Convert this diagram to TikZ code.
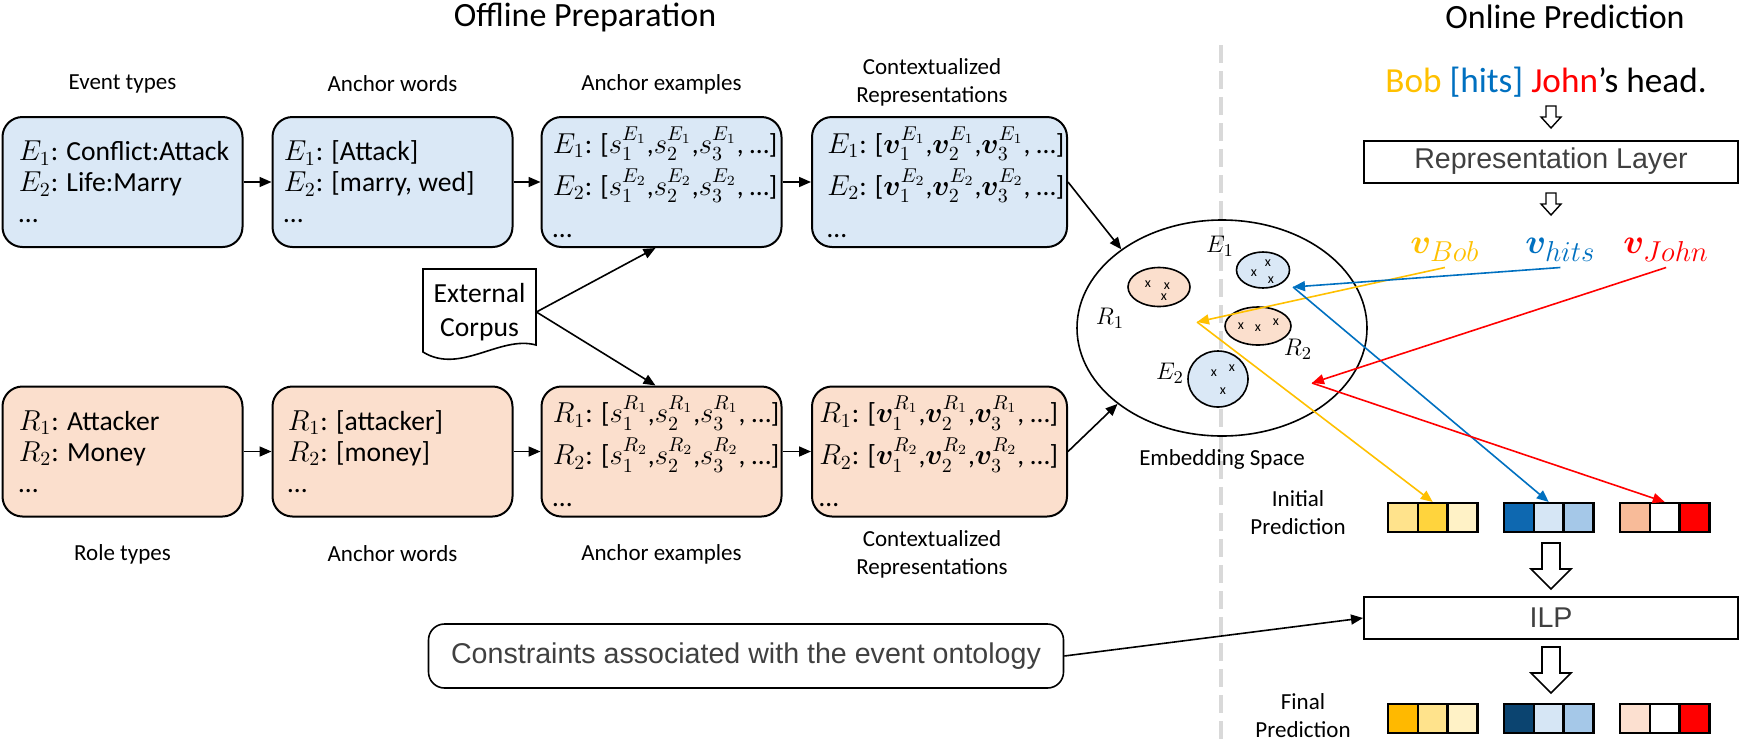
\documentclass[tikz,border=0pt]{standalone}
\usepackage{fontspec}
\setmainfont{Carlito}
\newfontfamily\arialfont{Liberation Sans}
\usepackage{amsmath,amssymb,bm}
\usetikzlibrary{arrows.meta,positioning,shapes.geometric,calc}

\definecolor{evfill}{HTML}{DAE8F6}
\definecolor{rofill}{HTML}{FBDFCD}
\definecolor{bobc}{HTML}{FFC000}
\definecolor{hitc}{HTML}{0070C0}
\definecolor{johnc}{HTML}{FF0000}
\definecolor{sepgray}{HTML}{D9D9D9}
\definecolor{layergray}{HTML}{404040}
% cell colours: ini/fin, bar, cell
\definecolor{ini11}{HTML}{FFE38C}\definecolor{ini12}{HTML}{FFD43D}\definecolor{ini13}{HTML}{FFF2C6}
\definecolor{ini21}{HTML}{0E68B0}\definecolor{ini22}{HTML}{D6E6F5}\definecolor{ini23}{HTML}{A5C8E8}
\definecolor{ini31}{HTML}{F8BB99}\definecolor{ini32}{HTML}{FFFFFF}\definecolor{ini33}{HTML}{FF0000}
\definecolor{fin11}{HTML}{FFB900}\definecolor{fin12}{HTML}{FFE38C}\definecolor{fin13}{HTML}{FFF2C6}
\definecolor{fin21}{HTML}{0B4470}\definecolor{fin22}{HTML}{D6E6F5}\definecolor{fin23}{HTML}{A5C8E8}
\definecolor{fin31}{HTML}{FCE0D0}\definecolor{fin32}{HTML}{FFFFFF}\definecolor{fin33}{HTML}{FF0000}

\begin{document}
\begin{tikzpicture}[x=0.5pt, y=-0.5pt]
    % ================= styles =================
    \tikzset{
        % rounded boxes of the offline part
        evbox/.style={draw=black, line width=1pt, rounded corners=10pt, fill=evfill, minimum width=120pt, minimum height=65pt, inner sep=0pt},
        robox/.style={evbox, fill=rofill},
        boxtxt/.style={font=\fontsize{13.8}{15.5}\selectfont, align=left, inner sep=0pt, anchor=west},
        suptxt/.style={boxtxt, font=\fontsize{13.8}{21}\selectfont},
        steplabel/.style={font=\fontsize{11.5}{14}\selectfont, align=center},
        title/.style={font=\fontsize{17}{20}\selectfont},
        flow/.style={line width=0.8pt, -{Triangle[length=6pt, width=5pt]}},
        colflow/.style={line width=0.8pt, -{Triangle[length=6pt, width=5pt]}},
        % boxes of the online part
        layerbox/.style={draw=black, line width=1pt, minimum width=187pt, minimum height=21pt, inner sep=0pt, font=\arialfont\fontsize{14.3}{16}\selectfont, text=layergray},
        cluster/.style={ellipse, draw=black, line width=0.8pt, inner sep=0pt},
        cross/.style={font=\fontsize{7}{8}\selectfont, inner sep=0pt},
        mlabel/.style={font=\fontsize{13}{15}\selectfont, inner sep=0pt},
        cell/.style={draw=black, line width=1.2pt, minimum width=14.85pt, minimum height=14.5pt, inner sep=0pt, anchor=north west},
        vec/.style={font=\fontsize{19}{21}\selectfont, inner sep=0pt, anchor=base west},
        smalldown/.pic={\draw[line width=0.7pt, fill=white] (-5,0) -- (5,0) -- (5,11) -- (10,11) -- (0,22) -- (-10,11) -- (-5,11) -- cycle;},
        bigdown/.pic={\draw[line width=0.8pt, fill=white] (-9,0) -- (9,0) -- (9,26) -- (20,26) -- (0,46) -- (-20,26) -- (-9,26) -- cycle;}
    }
    \useasboundingbox (0,0) rectangle (1744,745);

    % ================= separator =================
    \draw[sepgray, line width=2pt, dash pattern=on 9pt off 4pt] (1221,45) -- (1221,745);

    \node[title] (offtitle) at (585,17) {Offline Preparation};
    \node[title] (ontitle) at (1565,17) {Online Prediction};

    % ================= offline: event row =================
    \node[steplabel] (evlab1) at (122.5,84) {Event types};
    \node[steplabel] (evlab2) at (392.5,84) {Anchor words};
    \node[steplabel] (evlab3) at (661.5,84) {Anchor examples};
    \node[steplabel] (evlab4) at (932,82) {Contextualized\\Representations};

    \node[evbox] (ev1) at (122.5,182) {};
    \node[evbox] (ev2) at (392.5,182) {};
    \node[evbox] (ev3) at (661.5,182) {};
    \node[evbox, minimum width=127.5pt] (ev4) at (939.5,182) {};

    \node[boxtxt] (ev1txt) at ([xshift=8.5pt]ev1.west) {$E_1$: Conflict:Attack\\$E_2$: Life:Marry\\…};
    \node[boxtxt] (ev2txt) at ([xshift=6pt]ev2.west) {$E_1$: [Attack]\\$E_2$: [marry, wed]\\…};
    \node[suptxt] (ev3txt) at ([xshift=6pt]ev3.west) {$E_1$: [$s_1^{E_1}$,$s_2^{E_1}$,$s_3^{E_1}$, …]\\$E_2$: [$s_1^{E_2}$,$s_2^{E_2}$,$s_3^{E_2}$, …]\\…};
    \node[suptxt] (ev4txt) at ([xshift=8pt]ev4.west) {$E_1$: [$\boldsymbol{v}_1^{E_1}$,$\boldsymbol{v}_2^{E_1}$,$\boldsymbol{v}_3^{E_1}$, …]\\$E_2$: [$\boldsymbol{v}_1^{E_2}$,$\boldsymbol{v}_2^{E_2}$,$\boldsymbol{v}_3^{E_2}$, …]\\…};

    % ================= offline: role row =================
    \node[robox] (ro1) at (122.5,451.5) {};
    \node[robox] (ro2) at (392.5,451.5) {};
    \node[robox] (ro3) at (661.5,451.5) {};
    \node[robox, minimum width=127.5pt] (ro4) at (939.5,451.5) {};

    \node[boxtxt] (ro1txt) at ([xshift=8.5pt]ro1.west) {$R_1$: Attacker\\$R_2$: Money\\…};
    \node[boxtxt] (ro2txt) at ([xshift=8pt]ro2.west) {$R_1$: [attacker]\\$R_2$: [money]\\…};
    \node[suptxt] (ro3txt) at ([xshift=6pt]ro3.west) {$R_1$: [$s_1^{R_1}$,$s_2^{R_1}$,$s_3^{R_1}$, …]\\$R_2$: [$s_1^{R_2}$,$s_2^{R_2}$,$s_3^{R_2}$, …]\\…};
    \node[suptxt] (ro4txt) at ([xshift=4pt]ro4.west) {$R_1$: [$\boldsymbol{v}_1^{R_1}$,$\boldsymbol{v}_2^{R_1}$,$\boldsymbol{v}_3^{R_1}$, …]\\$R_2$: [$\boldsymbol{v}_1^{R_2}$,$\boldsymbol{v}_2^{R_2}$,$\boldsymbol{v}_3^{R_2}$, …]\\…};

    \node[steplabel] (rolab1) at (122.5,554) {Role types};
    \node[steplabel] (rolab2) at (392.5,554) {Anchor words};
    \node[steplabel] (rolab3) at (661.5,554) {Anchor examples};
    \node[steplabel] (rolab4) at (932,554) {Contextualized\\Representations};

    \draw[flow] (ev1) -- (ev2);
    \draw[flow] (ev2) -- (ev3);
    \draw[flow] (ev3) -- (ev4);
    \draw[flow] (ro1) -- (ro2);
    \draw[flow] (ro2) -- (ro3);
    \draw[flow] (ro3) -- (ro4);

    % external corpus (document shape)
    \draw[line width=0.8pt, fill=white] (423,269) -- (536,269) -- (536,345) .. controls (500,335) and (460,375) .. (423,352) -- cycle;
    \node[font=\fontsize{13.8}{17}\selectfont, align=center, minimum width=56.5pt, inner sep=0pt] (corpus) at (479.5,312) {External\\Corpus};
    \draw[flow] (corpus.east) -- ([xshift=-3pt]ev3.south);
    \draw[flow] (corpus.east) -- ([xshift=-3pt]ro3.north);

    % constraints
    \node[draw=black, line width=0.8pt, rounded corners=8pt, minimum width=317.5pt, minimum height=32pt, inner sep=0pt, font=\arialfont\fontsize{14.3}{16}\selectfont, text=layergray] (cons) at (746,656) {Constraints associated with the event ontology};

    % ================= embedding space =================
    \node[ellipse, draw=black, line width=0.8pt, minimum width=145pt, minimum height=108pt, inner sep=0pt] (space) at (1222,328) {};
    \node[steplabel] (spacelab) at (1222,459) {Embedding Space};

    \node[cluster, fill=rofill, minimum width=31pt, minimum height=19.5pt] (r1c) at (1159,287) {};
    \node[cluster, fill=evfill, minimum width=26.5pt, minimum height=18pt] (e1c) at (1263,270) {};
    \node[cluster, fill=rofill, minimum width=33pt, minimum height=19pt] (r2c) at (1258,326) {};
    \node[cluster, fill=evfill, minimum width=30pt, minimum height=28pt] (e2c) at (1218,379) {};
    \foreach \p [count=\i] in {(1148,284),(1167,286),(1164,297),(1254,273),(1268,263),(1271,280),(1241,326),(1258,328),(1276,322),(1214,373),(1232,368),(1223,391)}
        \node[cross] (x\i) at \p {x};

    \node[mlabel] (e1lab) at (1220,246) {$E_1$};
    \node[mlabel] (r1lab) at (1110,318) {$R_1$};
    \node[mlabel] (r2lab) at (1298,349) {$R_2$};
    \node[mlabel] (e2lab) at (1170,373) {$E_2$};

    \draw[flow] (ev4.east) -- (space.142);
    \draw[flow] (ro4.east) -- (space.216);

    % ================= online prediction =================
    \node[font=\fontsize{17.6}{20}\selectfont, anchor=base west, inner sep=0pt] (sent) at (1385,92) {\textcolor{bobc}{Bob} \textcolor{hitc}{[hits]} \textcolor{johnc}{John}’s head.};
    \pic at (1551,106) {smalldown};
    \node[layerbox] (replayer) at (1551,161.5) {Representation Layer};
    \pic at (1551,193) {smalldown};

    \node[vec, text=bobc] (vbob) at (1410,253) {$\boldsymbol{v}_{Bob}$};
    \node[vec, text=hitc] (vhit) at (1525,253) {$\boldsymbol{v}_{hits}$};
    \node[vec, text=johnc] (vjohn) at (1623,253) {$\boldsymbol{v}_{John}$};

    % prediction bars
    \foreach \row/\y in {ini/502, fin/703} {
        \foreach \bar/\x in {1/1387, 2/1503, 3/1619} {
            \foreach \k in {1,2,3} {
                \node[cell, fill=\row\bar\k] (\row\bar\k) at ({\x+29.7*(\k-1)},\y) {};
            }
        }
    }
    \node[steplabel] (inilab) at (1298,513) {Initial\\Prediction};
    \node[steplabel] (finlab) at (1303,716) {Final\\Prediction};

    \pic at (1551,543) {bigdown};
    \node[layerbox, minimum height=21pt] (ilp) at (1551,618) {ILP};
    \pic at (1551,647) {bigdown};

    \draw[flow] (cons.east) -- (ilp.west);

    % vectors into the space, then to the scores
    \coordinate (pbob) at (1197,322);
    \coordinate (phit) at (1293,287);
    \coordinate (pjohn) at (1312,383);
    \draw[colflow, bobc] ([yshift=-3pt]vbob.south) -- (pbob);
    \draw[colflow, bobc] (pbob) -- (ini12.north);
    \draw[colflow, hitc] ([yshift=-3pt]vhit.south) -- (phit);
    \draw[colflow, hitc] (phit) -- (ini22.north);
    \draw[colflow, johnc] ([yshift=-3pt]vjohn.south) -- (pjohn);
    \draw[colflow, johnc] (pjohn) -- (ini32.north);

\end{tikzpicture}
\end{document}
